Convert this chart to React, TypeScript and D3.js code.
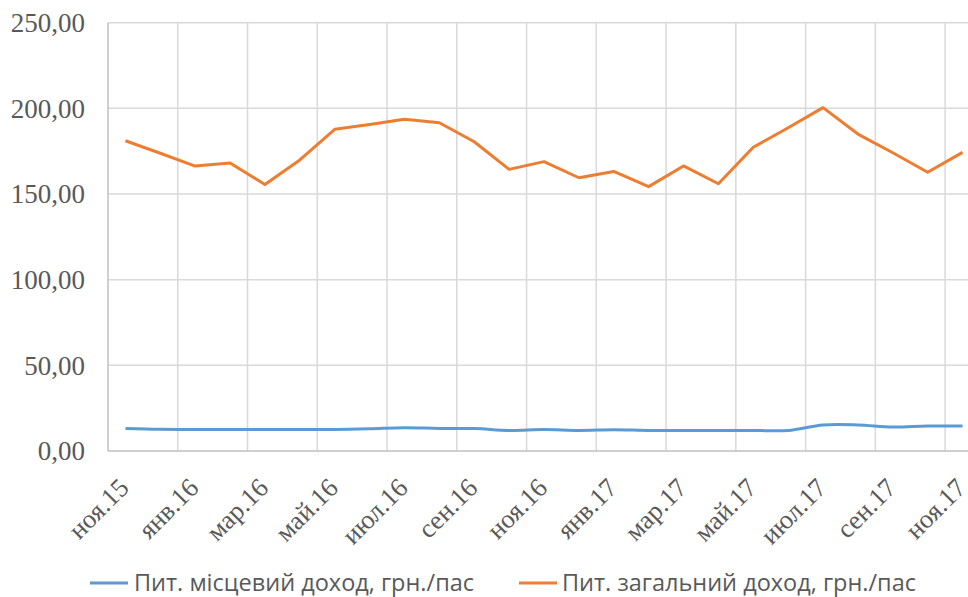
import React from "react";
import * as d3 from "d3";

const months = [
  "ноя.15", "дек.15", "янв.16", "фев.16", "мар.16", "апр.16", "май.16", "июн.16",
  "июл.16", "авг.16", "сен.16", "окт.16", "ноя.16", "дек.16", "янв.17", "фев.17",
  "мар.17", "апр.17", "май.17", "июн.17", "июл.17", "авг.17", "сен.17", "окт.17", "ноя.17",
];
const localIncome = [
  13.2, 12.7, 12.6, 12.6, 12.6, 12.6, 12.6, 13.0, 13.6, 13.2, 13.1, 12.0, 12.5,
  12.0, 12.4, 12.0, 12.0, 12.0, 12.0, 12.0, 15.2, 15.2, 14.0, 14.6, 14.6,
];
const totalIncome = [
  181.1, 173.8, 166.3, 168.1, 155.5, 169.9, 187.8, 190.6, 193.6, 191.6, 180.5, 164.4,
  168.9, 159.5, 163.2, 154.3, 166.4, 156.0, 177.3, 188.7, 200.4, 185.0, 174.1, 162.7, 174.3,
];
const yTicks = [0, 50, 100, 150, 200, 250];
const seriesNames = ["Пит. місцевий доход, грн./пас", "Пит. загальний доход, грн./пас"];
const colors = ["#5B9BD5", "#ED7D31"];

const W = 968;
const H = 597;
const left = 108;
const right = 980;
const top = 22.7;
const bottom = 451;

export default function App() {
  const x = d3.scaleBand<string>().domain(months).range([left, right]).paddingInner(0).paddingOuter(0);
  const y = d3.scaleLinear().domain([0, 250]).range([bottom, top]);
  const cx = (i: number) => (x(months[i]) as number) + x.bandwidth() / 2;
  const fmt = (v: number) => v.toFixed(2).replace(".", ",");

  const line = (vals: number[], curve: any) =>
    d3.line<number>().x((_, i) => cx(i)).y((v) => y(v)).curve(curve)(vals) as string;

  const gridX = months.map((_, i) => i).filter((i) => i % 2 === 0 && i > 0);

  return (
    <svg width={W} height={H} style={{ position: "absolute", left: 0, top: 0, background: "#fff" }}>
      {yTicks.filter((t) => t > 0).map((t) => (
        <line key={"h" + t} x1={left} x2={right} y1={y(t)} y2={y(t)} stroke="#d9d9d9" strokeWidth={1.5} />
      ))}
      {gridX.map((i) => (
        <line key={"v" + i} x1={x(months[i]) as number} x2={x(months[i]) as number} y1={top} y2={bottom} stroke="#d9d9d9" strokeWidth={1.5} />
      ))}
      <line x1={left} x2={left} y1={top} y2={bottom} stroke="#bfbfbf" strokeWidth={1.5} />
      <line x1={left} x2={right} y1={bottom} y2={bottom} stroke="#bfbfbf" strokeWidth={1.5} />
      {yTicks.map((t) => (
        <text key={"yl" + t} x={85} y={y(t)} dy="0.34em" textAnchor="end" fontFamily="'Liberation Serif', serif" fontSize={27} fill="#595959">
          {fmt(t)}
        </text>
      ))}
      {months.map((m, i) =>
        i % 2 === 0 ? (
          <text key={"xl" + i} transform={`translate(${cx(i) - 7.5},${477}) rotate(-45)`} dy="0.66em" textAnchor="end" fontFamily="'Liberation Serif', serif" fontSize={26.5} fill="#595959">
            {m}
          </text>
        ) : null
      )}
      <path d={line(localIncome, d3.curveCatmullRom.alpha(0.5))} fill="none" stroke={colors[0]} strokeWidth={3} strokeLinejoin="round" />
      <path d={line(totalIncome, d3.curveLinear)} fill="none" stroke={colors[1]} strokeWidth={3} strokeLinejoin="round" />
      {[{ lx: 90, tx: 134 }, { lx: 519, tx: 562 }].map((p, k) => (
        <g key={"lg" + k}>
          <line x1={p.lx} x2={p.lx + 38} y1={583} y2={583} stroke={colors[k]} strokeWidth={3} />
          <text x={p.tx} y={591} fontFamily="'Open Sans', sans-serif" fontSize={23.5} fill="#595959">
            {seriesNames[k]}
          </text>
        </g>
      ))}
    </svg>
  );
}
